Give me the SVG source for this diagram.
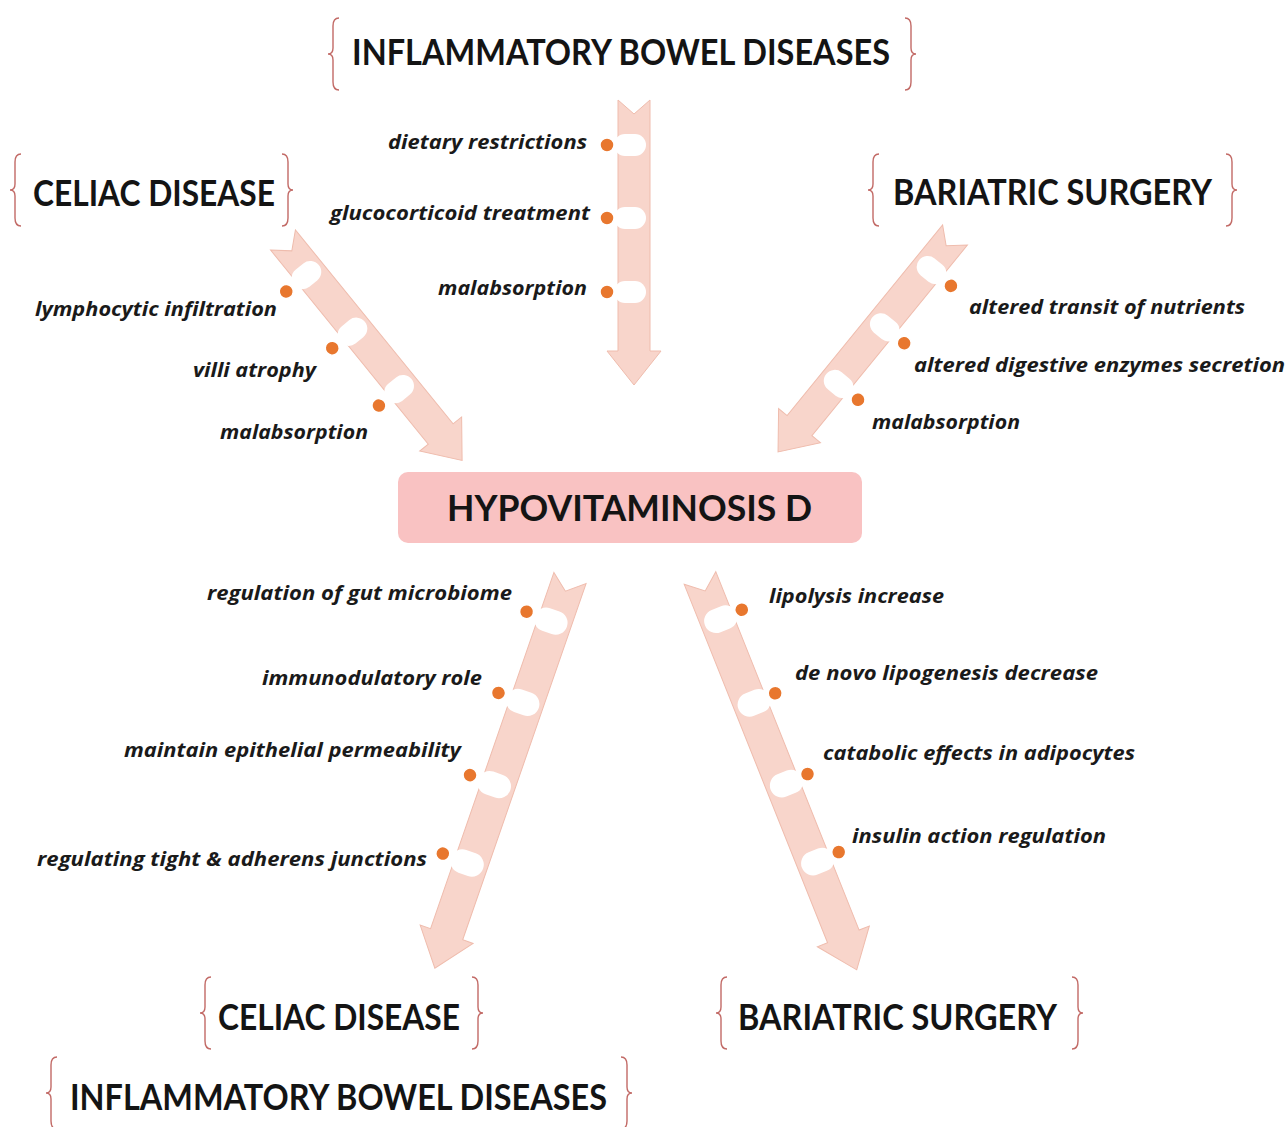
<svg xmlns="http://www.w3.org/2000/svg" width="1288" height="1127" viewBox="0 0 1288 1127">
<style>
.title{font-family:Lato,"Liberation Sans",sans-serif;font-weight:bold;font-size:36px;fill:#141414}
.lbl{font-family:"Open Sans","Liberation Sans",sans-serif;font-weight:bold;font-style:italic;font-size:20px;fill:#1a1a1a}
.brace{fill:none;stroke:#c26a66;stroke-width:1.4}
.arrow{fill:#f8d5cb;stroke:#efbcad;stroke-width:1}
.pill{fill:#ffffff}
.dot{fill:#e8772e;stroke:#ffffff;stroke-width:1.5}
</style>
<defs>
<path id="lb" class="brace" d="M 11,0 Q 5,0 5,8 L 5,30 Q 5,36 0,36 Q 5,36 5,42 L 5,64 Q 5,72 11,72"/>
<path id="rb" class="brace" d="M 0,0 Q 6,0 6,8 L 6,30 Q 6,36 11,36 Q 6,36 6,42 L 6,64 Q 6,72 0,72"/>
</defs>
<rect width="1288" height="1127" fill="#ffffff"/>

<g id="connectors">
  <g id="arrow-top" transform="translate(634,100)">
    <path class="arrow" d="M-16,0 L0,14 L16,0 L16,251 L27,251 L0,285 L-27,251 L-16,251 Z"/>
    <rect class="pill" x="-20" y="34" width="32" height="22" rx="11"/>
    <rect class="pill" x="-20" y="107" width="32" height="22" rx="11"/>
    <rect class="pill" x="-20" y="181" width="32" height="22" rx="11"/>
    <circle class="dot" cx="-27" cy="45" r="7"/>
    <circle class="dot" cx="-27" cy="118" r="7"/>
    <circle class="dot" cx="-27" cy="192" r="7"/>
  </g>
  <g id="arrow-ul" transform="translate(283,240) rotate(-39.1)">
    <path class="arrow" d="M-16,0 L0,14 L16,0 L16,250 L27,250 L0,284 L-27,250 L-16,250 Z"/>
    <rect class="pill" x="-20" y="31" width="32" height="22" rx="11"/>
    <rect class="pill" x="-20" y="104" width="32" height="22" rx="11"/>
    <rect class="pill" x="-20" y="178" width="32" height="22" rx="11"/>
    <circle class="dot" cx="-30" cy="42" r="7"/>
    <circle class="dot" cx="-30" cy="115" r="7"/>
    <circle class="dot" cx="-30" cy="189" r="7"/>
  </g>
  <g id="arrow-ur" transform="translate(955,235) rotate(39.2)">
    <path class="arrow" d="M-16,0 L0,14 L16,0 L16,246 L27,246 L0,280 L-27,246 L-16,246 Z"/>
    <rect class="pill" x="-12" y="31" width="32" height="22" rx="11"/>
    <rect class="pill" x="-12" y="105" width="32" height="22" rx="11"/>
    <rect class="pill" x="-12" y="178" width="32" height="22" rx="11"/>
    <circle class="dot" cx="29" cy="42" r="7"/>
    <circle class="dot" cx="29" cy="116" r="7"/>
    <circle class="dot" cx="29" cy="189" r="7"/>
  </g>
  <g id="arrow-ll" transform="translate(570,578) rotate(19.1)">
    <path class="arrow" d="M-17,0 L0,14 L17,0 L17,377 L28,377 L0,413 L-28,377 L-17,377 Z"/>
    <rect class="pill" x="-21" y="35" width="34" height="24" rx="12"/>
    <rect class="pill" x="-21" y="121" width="34" height="24" rx="12"/>
    <rect class="pill" x="-21" y="208" width="34" height="24" rx="12"/>
    <rect class="pill" x="-21" y="291" width="34" height="24" rx="12"/>
    <circle class="dot" cx="-30" cy="46" r="7"/>
    <circle class="dot" cx="-30" cy="132" r="7"/>
    <circle class="dot" cx="-30" cy="219" r="7"/>
    <circle class="dot" cx="-30" cy="302" r="7"/>
  </g>
  <g id="arrow-lr" transform="translate(700,578) rotate(-21.8)">
    <path class="arrow" d="M-17,0 L0,14 L17,0 L17,386 L28,386 L0,422 L-28,386 L-17,386 Z"/>
    <rect class="pill" x="-13" y="34" width="34" height="24" rx="12"/>
    <rect class="pill" x="-13" y="124" width="34" height="24" rx="12"/>
    <rect class="pill" x="-13" y="211" width="34" height="24" rx="12"/>
    <rect class="pill" x="-13" y="295" width="34" height="24" rx="12"/>
    <circle class="dot" cx="27" cy="45" r="7"/>
    <circle class="dot" cx="27" cy="135" r="7"/>
    <circle class="dot" cx="27" cy="222" r="7"/>
    <circle class="dot" cx="27" cy="306" r="7"/>
  </g>
</g>

<g id="node-ibd-top">
  <use href="#lb" x="328" y="18"/>
  <text class="title" x="352" y="65" textLength="538" lengthAdjust="spacingAndGlyphs">INFLAMMATORY BOWEL DISEASES</text>
  <use href="#rb" x="905" y="18"/>
</g>
<g id="node-celiac-top">
  <use href="#lb" x="10" y="154"/>
  <text class="title" x="33" y="206" textLength="242" lengthAdjust="spacingAndGlyphs">CELIAC DISEASE</text>
  <use href="#rb" x="282" y="154"/>
</g>
<g id="node-bariatric-top">
  <use href="#lb" x="868" y="154"/>
  <text class="title" x="893" y="205" textLength="319" lengthAdjust="spacingAndGlyphs">BARIATRIC SURGERY</text>
  <use href="#rb" x="1226" y="154"/>
</g>

<g id="node-hypovitaminosis">
  <rect x="398" y="472" width="464" height="71" rx="10" fill="#f9c2c2"/>
  <text class="title" x="447" y="521" font-size="38" textLength="365" lengthAdjust="spacingAndGlyphs">HYPOVITAMINOSIS D</text>
</g>

<g id="labels-top">
  <text class="lbl" x="388" y="149" textLength="199" lengthAdjust="spacingAndGlyphs">dietary restrictions</text>
  <text class="lbl" x="330" y="220" textLength="260" lengthAdjust="spacingAndGlyphs">glucocorticoid treatment</text>
  <text class="lbl" x="438" y="295" textLength="149" lengthAdjust="spacingAndGlyphs">malabsorption</text>
</g>
<g id="labels-ul">
  <text class="lbl" x="35" y="316" textLength="242" lengthAdjust="spacingAndGlyphs">lymphocytic infiltration</text>
  <text class="lbl" x="193" y="377" textLength="123" lengthAdjust="spacingAndGlyphs">villi atrophy</text>
  <text class="lbl" x="220" y="439" textLength="148" lengthAdjust="spacingAndGlyphs">malabsorption</text>
</g>
<g id="labels-ur">
  <text class="lbl" x="969" y="314" textLength="276" lengthAdjust="spacingAndGlyphs">altered transit of nutrients</text>
  <text class="lbl" x="914" y="372" textLength="371" lengthAdjust="spacingAndGlyphs">altered digestive enzymes secretion</text>
  <text class="lbl" x="872" y="429" textLength="148" lengthAdjust="spacingAndGlyphs">malabsorption</text>
</g>
<g id="labels-ll">
  <text class="lbl" x="207" y="600" textLength="305" lengthAdjust="spacingAndGlyphs">regulation of gut microbiome</text>
  <text class="lbl" x="262" y="685" textLength="220" lengthAdjust="spacingAndGlyphs">immunodulatory role</text>
  <text class="lbl" x="124" y="757" textLength="337" lengthAdjust="spacingAndGlyphs">maintain epithelial permeability</text>
  <text class="lbl" x="37" y="866" textLength="390" lengthAdjust="spacingAndGlyphs">regulating tight &amp; adherens junctions</text>
</g>
<g id="labels-lr">
  <text class="lbl" x="769" y="603" textLength="175" lengthAdjust="spacingAndGlyphs">lipolysis increase</text>
  <text class="lbl" x="795" y="680" textLength="303" lengthAdjust="spacingAndGlyphs">de novo lipogenesis decrease</text>
  <text class="lbl" x="823" y="760" textLength="312" lengthAdjust="spacingAndGlyphs">catabolic effects in adipocytes</text>
  <text class="lbl" x="852" y="843" textLength="254" lengthAdjust="spacingAndGlyphs">insulin action regulation</text>
</g>

<g id="node-celiac-bottom">
  <use href="#lb" x="200" y="977"/>
  <text class="title" x="218" y="1030" textLength="242" lengthAdjust="spacingAndGlyphs">CELIAC DISEASE</text>
  <use href="#rb" x="472" y="977"/>
</g>
<g id="node-bariatric-bottom">
  <use href="#lb" x="716" y="977"/>
  <text class="title" x="738" y="1030" textLength="319" lengthAdjust="spacingAndGlyphs">BARIATRIC SURGERY</text>
  <use href="#rb" x="1072" y="977"/>
</g>
<g id="node-ibd-bottom">
  <use href="#lb" x="46" y="1057"/>
  <text class="title" x="70" y="1110" textLength="537" lengthAdjust="spacingAndGlyphs">INFLAMMATORY BOWEL DISEASES</text>
  <use href="#rb" x="621" y="1057"/>
</g>
</svg>
